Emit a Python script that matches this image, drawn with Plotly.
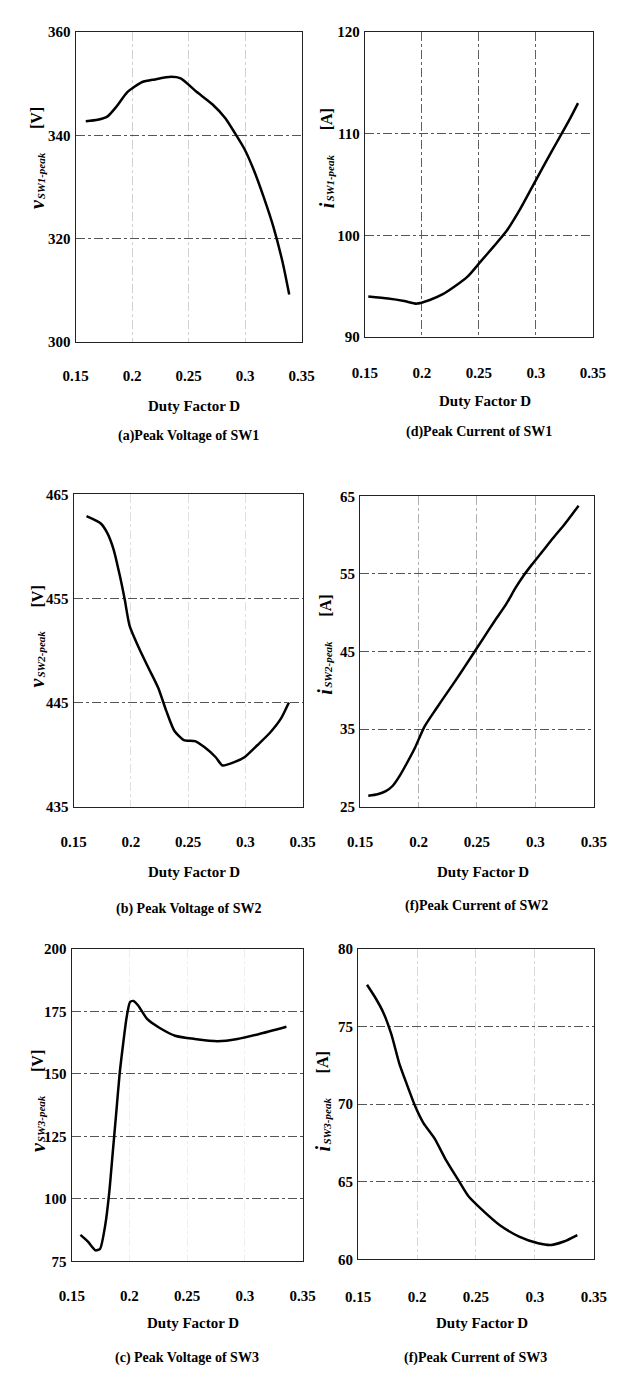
import plotly.graph_objects as go

# ---------------- data ----------------
D_TICKS = [0.15, 0.2, 0.25, 0.3, 0.35]
D_TICK_TEXT = ["0.15", "0.2", "0.25", "0.3", "0.35"]

# (a) Peak voltage of SW1
D_a = [0.159, 0.1695, 0.178, 0.186, 0.196, 0.209, 0.220, 0.2345, 0.243, 0.257,
       0.271, 0.2825, 0.291, 0.2995, 0.308, 0.3165, 0.325, 0.3333, 0.339]
V_a = [342.7, 343.0, 343.6, 345.5, 348.4, 350.3, 350.8, 351.3, 351.0, 348.4,
       346.0, 343.3, 340.4, 337.3, 333.1, 328.0, 322.3, 315.3, 309.2]
Y_TICKS_A = [300, 320, 340, 360]

# (d) Peak current of SW1
D_d = [0.153, 0.1704, 0.1845, 0.1956, 0.2069, 0.218, 0.229, 0.2405, 0.2517,
       0.2629, 0.2741, 0.2853, 0.2965, 0.3077, 0.3189, 0.3301, 0.337]
I_d = [94.0, 93.8, 93.56, 93.3, 93.66, 94.2, 95.0, 96.0, 97.45,
       98.9, 100.4, 102.4, 104.7, 107.0, 109.25, 111.5, 113.0]
Y_TICKS_D = [90, 100, 110, 120]

# (b) Peak voltage of SW2
D_b = [0.1612, 0.1737, 0.1793, 0.1849, 0.1904, 0.1946, 0.1988, 0.2072, 0.2155,
       0.2239, 0.2309, 0.2379, 0.2462, 0.2560, 0.2644, 0.2741, 0.2800, 0.2908,
       0.2992, 0.3104, 0.3215, 0.3313, 0.338]
V_b = [462.9, 462.2, 461.3, 459.7, 457.15, 454.9, 452.4, 450.2, 448.3,
       446.4, 444.2, 442.3, 441.4, 441.3, 440.7, 439.75, 438.96, 439.3,
       439.75, 440.9, 442.1, 443.5, 445.0]
Y_TICKS_B = [435, 445, 455, 465]

# (f) Peak current of SW2
D_f2 = [0.157, 0.165, 0.172, 0.178, 0.184, 0.19, 0.197, 0.205, 0.215, 0.225,
        0.235, 0.245, 0.255, 0.265, 0.275, 0.283, 0.29, 0.297, 0.305, 0.315,
        0.325, 0.337]
I_f2 = [26.4, 26.6, 27.0, 27.7, 29.0, 30.6, 32.6, 35.3, 37.6, 39.8,
        42.0, 44.3, 46.6, 48.9, 51.1, 53.2, 54.8, 56.2, 57.7, 59.6,
        61.4, 63.8]
Y_TICKS_F2 = [25, 35, 45, 55, 65]

# (c) Peak voltage of SW3
D_c = [0.1575, 0.164, 0.1705, 0.1745, 0.179, 0.1825, 0.1855, 0.1885, 0.1915,
       0.1945, 0.1975, 0.2005, 0.2035, 0.2075, 0.2155, 0.2255, 0.2395, 0.2565,
       0.2765, 0.2935, 0.3125, 0.336]
V_c = [85.6, 82.9, 79.4, 80.0, 89.5, 102.7, 118.5, 134.3, 150.2,
       162.0, 172.6, 178.8, 179.2, 177.4, 171.9, 168.6, 165.3, 164.0,
       163.1, 164.0, 166.0, 168.9]
Y_TICKS_C = [75, 100, 125, 150, 175, 200]

# (f) Peak current of SW3
D_f3 = [0.1575, 0.1646, 0.1714, 0.1782, 0.185, 0.1917, 0.1985, 0.2053, 0.2148,
        0.2242, 0.2351, 0.2433, 0.2541, 0.2703, 0.2866, 0.3028, 0.3137, 0.3246,
        0.336]
I_f3 = [77.7, 76.86, 75.9, 74.5, 72.6, 71.2, 69.85, 68.8, 67.8,
        66.45, 65.1, 64.1, 63.27, 62.2, 61.47, 61.04, 60.93, 61.15,
        61.57]
Y_TICKS_F3 = [60, 65, 70, 75, 80]

# ---------------- layout ----------------
W, H = 617, 1376
FONT = "Liberation Serif"

panels = [
    dict(x=D_a, y=V_a, box=(57, 293, 16, 330), yt=Y_TICKS_A, sym="v", sub="SW1-peak", unit="[V]",
         cap="(a)Peak Voltage of SW1", vg="#d0d0d0", tx=17, ty=143, lab=362, dfd=395, capy=425),
    dict(x=D_d, y=I_d, box=(359, 597, 16, 325), yt=Y_TICKS_D, sym="i", sub="SW1-peak", unit="[A]",
         cap="(d)Peak Current of SW1", vg="#606060", tx=319, ty=145, lab=359, dfd=390, capy=421),
    dict(x=D_b, y=V_b, box=(55, 294, 484, 800), yt=Y_TICKS_B, sym="v", sub="SW2-peak", unit="[V]",
         cap="(b) Peak Voltage of SW2", vg="#e0e0e0", tx=17, ty=627, lab=833, dfd=866, capy=904),
    dict(x=D_f2, y=I_f2, box=(354, 598, 486, 800), yt=Y_TICKS_F2, sym="i", sub="SW2-peak", unit="[A]",
         cap="(f)Peak Current of SW2", vg="#b0b0b0", tx=317, ty=637, lab=833, dfd=866, capy=900),
    dict(x=D_c, y=V_c, box=(53, 294, 944, 1260), yt=Y_TICKS_C, sym="v", sub="SW3-peak", unit="[V]",
         cap="(c) Peak Voltage of SW3", vg="#eeeeee", tx=17, ty=1097, lab=1293, dfd=1322, capy=1358),
    dict(x=D_f3, y=I_f3, box=(352, 598, 944, 1258), yt=Y_TICKS_F3, sym="i", sub="SW3-peak", unit="[A]",
         cap="(f)Peak Current of SW3", vg="#d8d8d8", tx=315, ty=1099, lab=1293, dfd=1322, capy=1358),
]

fig = go.Figure()
layout = dict(width=W, height=H, margin=dict(l=0, r=0, t=0, b=0),
              paper_bgcolor="white", plot_bgcolor="white", showlegend=False,
              annotations=[])

TICKFONT = dict(family=FONT, size=15, color="black", weight="bold")


def ann(text, px, py, size, angle=0, style="normal"):
    return dict(text=text, xref="paper", yref="paper", x=px / W, y=1 - py / H,
                xanchor="center", yanchor="middle", showarrow=False, textangle=angle,
                borderpad=0,
                font=dict(family=FONT, size=size, color="black", weight="bold", style=style))


for k, p in enumerate(panels, start=1):
    sfx = "" if k == 1 else str(k)
    l, r, t, b = p["box"]
    fig.add_trace(go.Scatter(x=p["x"], y=p["y"], mode="lines",
                             line=dict(color="black", width=2.5, shape="spline", smoothing=0.6),
                             xaxis="x" + sfx, yaxis="y" + sfx, hoverinfo="skip"))
    layout["xaxis" + sfx] = dict(
        domain=[l / W, r / W], anchor="y" + sfx, range=[0.15, 0.35],
        tickvals=D_TICKS, ticktext=D_TICK_TEXT, ticks="",
        tickfont=TICKFONT, ticklabelstandoff=p["lab"] - b - 12,
        showline=True, mirror=True, linecolor="#222", linewidth=1.3,
        showgrid=True, gridcolor=p["vg"], griddash="dashdot", gridwidth=1,
        zeroline=False, fixedrange=True)
    layout["yaxis" + sfx] = dict(
        domain=[1 - b / H, 1 - t / H], anchor="x" + sfx,
        range=[p["yt"][0], p["yt"][-1]], tickvals=p["yt"], ticks="",
        tickfont=TICKFONT, ticklabelstandoff=1,
        showline=True, mirror=True, linecolor="#222", linewidth=1.3,
        showgrid=True, gridcolor="#555", griddash="dashdot", gridwidth=1,
        zeroline=False, fixedrange=True)
    cx = (l + r) / 2
    A = layout["annotations"]
    A.append(ann("Duty Factor D", cx + 6, p["dfd"], 15))
    A.append(ann(p["cap"], cx, p["capy"], 14))
    # rotated y-axis title built from three pieces: symbol, subscript, unit
    tx, ty = p["tx"], p["ty"]
    A.append(ann(p["sym"], tx, ty + 47, 20, angle=-90, style="italic"))
    A.append(ann(p["sub"], tx + 4, ty + 19, 11, angle=-90, style="italic"))
    A.append(ann(p["unit"], tx, ty - 40, 16, angle=-90))

fig.update_layout(**layout)
fig.write_html("out.html")
